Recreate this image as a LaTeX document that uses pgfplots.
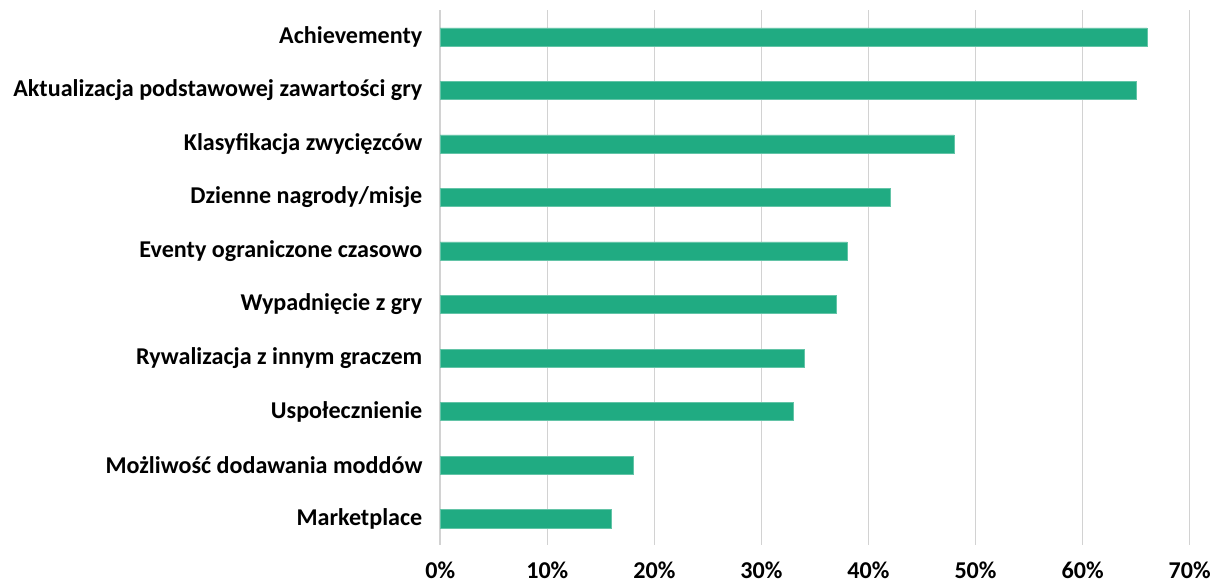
\documentclass[border=0pt]{standalone}
\usepackage{pgfplots}
\pgfplotsset{compat=1.18}
\usepackage{fontspec}
\setmainfont{Carlito}
\definecolor{barc}{RGB}{32,171,130}
\definecolor{gridc}{RGB}{210,210,210}
\begin{document}
\begin{tikzpicture}
\begin{axis}[
  xbar,
  scale only axis,
  width=746pt, height=533pt,
  xmin=0, xmax=70,
  ymin=-0.5, ymax=9.5,
  y dir=reverse,
  axis line style={draw=none},
  xtick={0,10,...,70},
  xticklabels={0\%,10\%,20\%,30\%,40\%,50\%,60\%,70\%},
  ytick={0,...,9},
  yticklabels={Achievementy,Aktualizacja podstawowej zawartości gry,Klasyfikacja zwycięzców,Dzienne nagrody/misje,Eventy ograniczone czasowo,Wypadnięcie z gry,Rywalizacja z innym graczem,Uspołecznienie,Możliwość dodawania moddów,Marketplace},
  tick style={draw=none},
  xmajorgrids,
  major grid style={draw=gridc, line width=1.5pt},
  ticklabel style={font=\fontsize{24}{28}\selectfont\bfseries},
  yticklabel style={xshift=-10pt},
  xticklabel style={yshift=-13pt},
  /pgf/number format/assume math mode=true,
  bar width=18pt,
]
\addplot[fill=barc, draw=barc!70!white, line width=0.5pt] coordinates {
(66,0) (65,1) (48,2) (42,3) (38,4) (37,5) (34,6) (33,7) (18,8) (16,9)
};
\end{axis}
\path (current axis.north) -- ++(0,10pt);
\path (current bounding box.west) -- ++(-10pt,0);
\path (current bounding box.south) -- ++(0,-2pt);
\end{tikzpicture}
\end{document}
